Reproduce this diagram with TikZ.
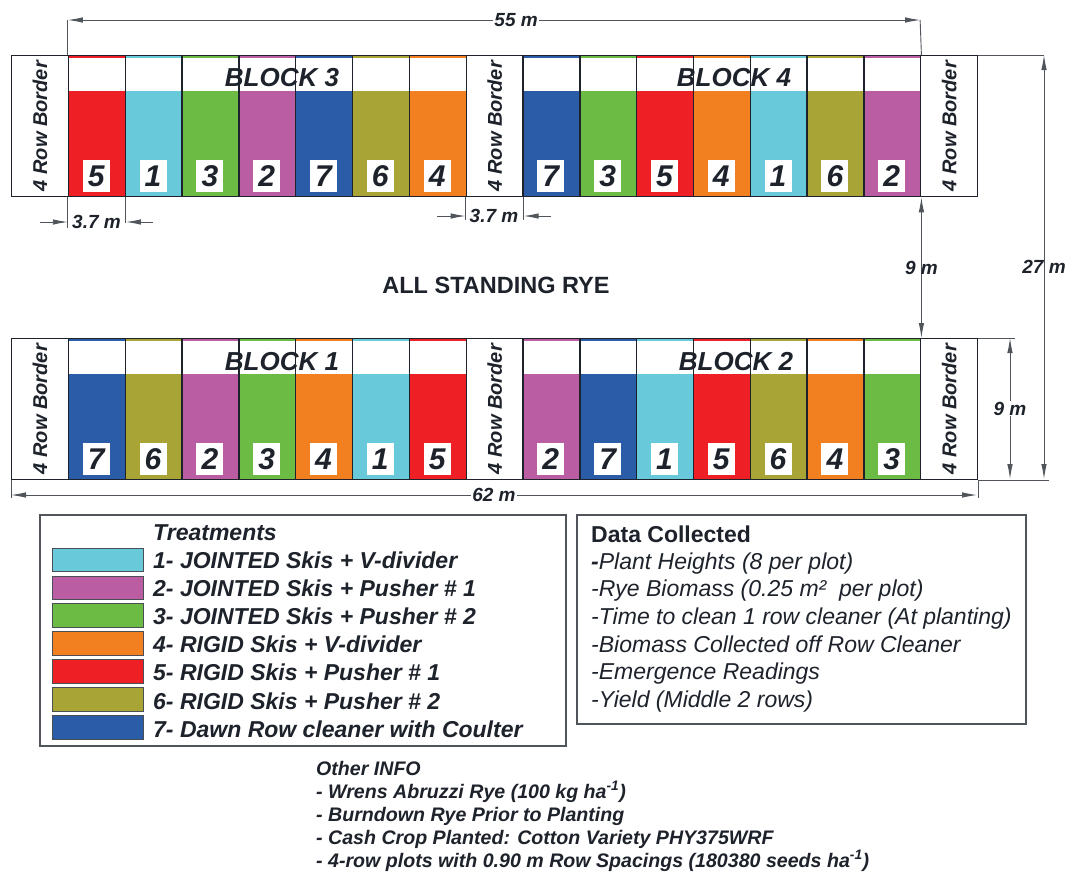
\documentclass[tikz,border=0pt]{standalone}
\usepackage{fontspec}
\setmainfont{Liberation Sans}
\usetikzlibrary{arrows.meta}

\definecolor{ink}{HTML}{1D222B}
\definecolor{dimgrey}{HTML}{50555C}
\definecolor{trt1}{HTML}{68C9DB}
\definecolor{trt2}{HTML}{BA5DA2}
\definecolor{trt3}{HTML}{6BBB45}
\definecolor{trt4}{HTML}{F27F20}
\definecolor{trt5}{HTML}{EE1F25}
\definecolor{trt6}{HTML}{A8A436}
\definecolor{trt7}{HTML}{2A5CA8}

\newcommand{\fsz}[1]{\fontsize{#1}{#1}\selectfont}

\begin{document}
\begin{tikzpicture}[x=1pt,y=-1pt,
  plotbox/.style={draw=ink,line width=1.3pt,minimum width=56.82pt,minimum height=141pt,inner sep=0pt,anchor=north west},
  numbox/.style={fill=white,minimum width=27pt,minimum height=32pt,inner sep=0pt,text=ink,font=\fsz{30}\bfseries\itshape},
  bordertxt/.style={rotate=90,text=ink,font=\fsz{20}\bfseries\itshape},
  blocktxt/.style={anchor=base,inner sep=0pt,text=ink,font=\fsz{26}\bfseries\itshape},
  dimline/.style={draw=dimgrey,line width=0.9pt},
  dimarrow/.style={dimline,-{Latex[length=15pt,width=5.5pt]}},
  dimboth/.style={dimline,{Latex[length=15pt,width=5.5pt]}-{Latex[length=15pt,width=5.5pt]}},
  dimtxt/.style={inner sep=1pt,text=ink,font=\fsz{19}\bfseries\itshape},
  keytxt/.style={anchor=base west,inner sep=0pt,text=ink,font=\fsz{23}\bfseries\itshape},
  datatxt/.style={anchor=base west,inner sep=0pt,text=ink,font=\fsz{23}\itshape},
  infotxt/.style={anchor=base west,inner sep=0pt,text=ink,font=\fsz{19.6}\bfseries\itshape}]
\fill[white] (0,0) rectangle (1065,873);
\useasboundingbox (0,0) rectangle (1065,873);

% plots: block / first column / row top / treatment order
\foreach \blk/\col/\ytop/\seq in {3/1/55/{5,1,3,2,7,6,4},4/9/55/{7,3,5,4,1,6,2},
                                  1/1/338/{7,6,2,3,4,1,5},2/9/338/{2,7,1,5,6,4,3}}{
  \foreach \t [count=\i from 0] in \seq {
    \pgfmathsetmacro{\xl}{11+56.82*(\col+\i)}
    \fill[trt\t] (\xl,\ytop+36) rectangle ++(56.82,105);
    \fill[trt\t] (\xl,\ytop) rectangle ++(56.82,2.8);
    \node[plotbox] (b\blk p\t) at (\xl,\ytop) {};
    \node[numbox] (n\blk p\t) at (\xl+28.41,\ytop+121) {\t};
  }
}

% border rows
\foreach \row/\ytop in {t/55,b/338}
  \foreach \c in {0,8,16}{
    \node[plotbox] (bd\row\c) at (11+56.82*\c,\ytop) {};
    \node[bordertxt] at (bd\row\c) {4 Row Border};
  }

\node[blocktxt] (blk3) at (282,86) {BLOCK 3};
\node[blocktxt] (blk4) at (734,86) {BLOCK 4};
\node[blocktxt] (blk1) at (282,370) {BLOCK 1};
\node[blocktxt] (blk2) at (736,370) {BLOCK 2};

\node[text=ink,font=\fsz{23.5}\bfseries] (rye) at (496,285) {ALL STANDING RYE};

% 55 m
\coordinate (w55a) at (67.82,20);
\coordinate (w55b) at (920.12,20);
\draw[dimline] (b3p5.north west) -- (w55a);
\draw[dimline] (b4p2.north east) -- (w55b);
\draw[dimboth] (w55a) -- node[dimtxt,fill=white,pos=0.526] {55 m} (w55b);

% 3.7 m plot width
\draw[dimline] (b3p5.south west) -- ++(0,31);
\draw[dimline] (b3p5.south east) -- ++(0,26);
\coordinate (p37a) at (40,222);
\coordinate (p37b) at (153,222);
\draw[dimarrow] (p37a) -- (b3p5.south west |- p37a);
\draw[dimarrow] (p37b) -- (b3p5.south east |- p37b);
\node[dimtxt] at (96.5,222) {3.7 m};

% 3.7 m border width
\draw[dimline] (bdt8.south west) -- ++(0,23);
\draw[dimline] (bdt8.south east) -- ++(0,23);
\coordinate (q37a) at (437,216);
\coordinate (q37b) at (551,216);
\draw[dimarrow] (q37a) -- (bdt8.south west |- q37a);
\draw[dimarrow] (q37b) -- (bdt8.south east |- q37b);
\node[dimtxt] at (494,216) {3.7 m};

% 9 m alley
\draw[dimboth] (b4p2.south east) -- node[dimtxt] {9 m} (b2p3.north east);

% 27 m total
\coordinate (h27a) at (1044,55);
\coordinate (h27b) at (1044,479);
\draw[dimline] (bdt16.north east) -- (h27a);
\draw[dimline] (bdb16.south east) -- ++(71,0);
\draw[dimboth] (h27a) -- node[dimtxt] {27 m} (h27b);

% 9 m row
\coordinate (h9a) at (1010,338);
\coordinate (h9b) at (1010,479);
\draw[dimline] (bdb16.north east) -- ++(37,0);
\draw[dimboth] (h9a) -- node[dimtxt,fill=white] {9 m} (h9b);

% 62 m
\coordinate (w62a) at (11,495);
\coordinate (w62b) at (977,495);
\draw[dimline] (bdb0.south west) -- ++(0,18);
\draw[dimline] (bdb16.south east) -- ++(0,18);
\draw[dimboth] (w62a) -- node[dimtxt,fill=white] {62 m} (w62b);

% treatments key
\draw[dimgrey,line width=1.2pt] (40,515) rectangle (566,746);
\node[keytxt] (keyhd) at (153,540) {Treatments};
\foreach \t/\txt in {1/JOINTED Skis + V-divider,2/JOINTED Skis + Pusher \# 1,
                     3/JOINTED Skis + Pusher \# 2,4/RIGID Skis + V-divider,
                     5/RIGID Skis + Pusher \# 1,6/RIGID Skis + Pusher \# 2,
                     7/Dawn Row cleaner with Coulter}{
  \filldraw[fill=trt\t,draw=ink!80,line width=0.8pt] (52,548+27.9*\t-27.9) rectangle ++(91,23.5);
  \node[keytxt] (key\t) at (153,568+28.2*\t-28.2) {\t- \txt};
}

% data collected
\draw[dimgrey,line width=1.2pt] (577,515) rectangle (1026,724);
\node[keytxt,font=\fsz{23}\bfseries] (datahd) at (591,542) {Data Collected};
\foreach \d [count=\i] in {{\textbf{-}Plant Heights (8 per plot)},
                          -Rye Biomass (0.25 m²\ \ per plot),
                          -Time to clean 1 row cleaner (At planting),
                          -Biomass Collected off Row Cleaner,
                          -Emergence Readings,
                          -Yield (Middle 2 rows)}
  \node[datatxt] (data\i) at (591,569+27.7*\i-27.7) {\d};

% other info
\node[infotxt] (info0) at (316,775) {Other INFO};
\foreach \d [count=\i] in {- Wrens Abruzzi Rye (100 kg ha\textsuperscript{-1}),
                          - Burndown Rye Prior to Planting,
                          - Cash Crop Planted: Cotton Variety PHY375WRF,
                          - 4-row plots with 0.90 m Row Spacings (180380 seeds ha\textsuperscript{-1})}
  \node[infotxt] (info\i) at (316,775+23*\i) {\d};
\end{tikzpicture}
\end{document}
